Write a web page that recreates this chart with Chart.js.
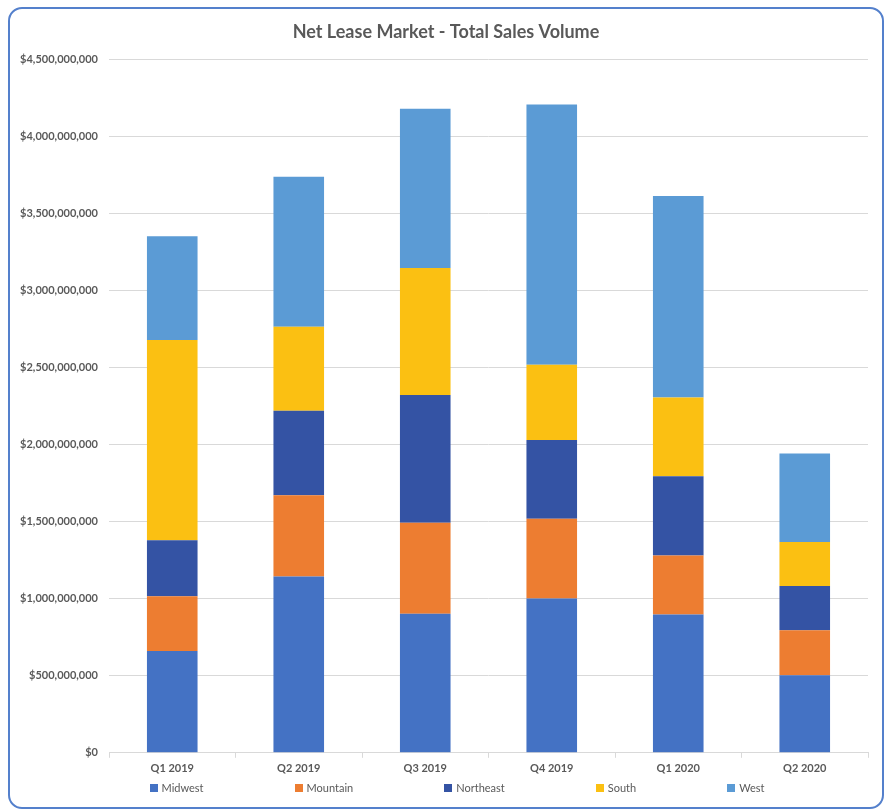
<!DOCTYPE html>
<html>
<head>
<meta charset="utf-8">
<script src="https://cdn.jsdelivr.net/npm/chart.js@4"></script>
<style>
  html, body { margin: 0; padding: 0; background: #fff; }
  #wrap { position: absolute; left: 0; top: 0; width: 889px; height: 812px; }
  #frame {
    position: absolute; left: 8px; top: 7px; width: 872px; height: 798px;
    border: 2px solid #5480cc; border-radius: 14px; pointer-events: none;
  }
  #legend {
    position: absolute; left: 0; top: 781px; width: 914px;
    display: flex; justify-content: center; gap: 91px;
    font: 11px Lato, sans-serif; color: #595959;
  }
  #legend span.item { display: flex; align-items: center; }
  #legend span.box { width: 8px; height: 8px; margin-right: 4px; display: inline-block; }
</style>
</head>
<body>
<div id="wrap">
  <canvas id="myChart"></canvas>
  <div id="legend"></div>
  <div id="frame"></div>
</div>
<script>
const quarters = ["Q1 2019", "Q2 2019", "Q3 2019", "Q4 2019", "Q1 2020", "Q2 2020"];
const regions = ["Midwest", "Mountain", "Northeast", "South", "West"];
const regionColors = ["#4472c4", "#ed7d31", "#3453a4", "#fbc012", "#5b9bd5"];

const midwest   = [661000000, 1144000000, 903000000, 1001000000, 897000000, 503000000];
const mountain  = [355000000, 528000000, 591000000, 519000000, 383000000, 292000000];
const northeast = [364000000, 548000000, 828000000, 510000000, 516000000, 288000000];
const south     = [1300000000, 546000000, 825000000, 489000000, 511000000, 286000000];
const west      = [673000000, 974000000, 1034000000, 1690000000, 1308000000, 574000000];

const seriesValues = [midwest, mountain, northeast, south, west];

const fontFamily = "Lato, 'Open Sans', sans-serif";
const textGray = "#595959";

// the original title sits centred on the framed box, not on the whole canvas
const shiftTitle = {
    id: 'shiftTitle',
    afterLayout(chart) {
        if (chart.titleBlock) chart.titleBlock.left = 24;
    }
};

document.addEventListener('DOMContentLoaded', () => {
    const canvas = document.getElementById("myChart");
    canvas.width = 889;
    canvas.height = 812;

    new Chart(canvas, {
        type: "bar",
        data: {
            labels: quarters,
            datasets: regions.map((name, i) => ({
                label: name,
                data: seriesValues[i],
                backgroundColor: regionColors[i],
                borderWidth: 0,
                barPercentage: 0.4,
                categoryPercentage: 1.0
            }))
        },
        options: {
            responsive: false,
            animation: false,
            layout: {
                padding: { top: 21, right: 21, bottom: 33, left: 0 }
            },
            plugins: {
                legend: { display: false },
                tooltip: { enabled: false },
                title: {
                    display: true,
                    text: "Net Lease Market - Total Sales Volume",
                    color: textGray,
                    font: { family: fontFamily, size: 18, weight: "bold" },
                    padding: { top: 0, bottom: 17 }
                }
            },
            scales: {
                x: {
                    stacked: true,
                    grid: {
                        display: true,
                        drawOnChartArea: false,
                        drawTicks: true,
                        tickLength: 5,
                        color: "#d9d9d9"
                    },
                    border: { display: true, color: "#d9d9d9" },
                    ticks: {
                        color: textGray,
                        padding: 4,
                        font: { family: fontFamily, size: 11, weight: "bold" }
                    }
                },
                y: {
                    stacked: true,
                    min: 0,
                    max: 4500000000,
                    afterFit: (scale) => { scale.width = 109; },
                    grid: {
                        color: "#d9d9d9",
                        drawTicks: false
                    },
                    border: { display: false },
                    ticks: {
                        stepSize: 500000000,
                        padding: 11,
                        color: textGray,
                        font: { family: fontFamily, size: 11, weight: "bold" },
                        callback: (v) => "$" + Number(v).toLocaleString("en-US")
                    }
                }
            }
        },
        plugins: [shiftTitle]
    });

    // legend spread out like the original
    const legend = document.getElementById("legend");
    regions.forEach((name, i) => {
        const item = document.createElement("span");
        item.className = "item";
        const box = document.createElement("span");
        box.className = "box";
        box.style.background = regionColors[i];
        item.appendChild(box);
        item.appendChild(document.createTextNode(name));
        legend.appendChild(item);
    });
});
</script>
</body>
</html>
